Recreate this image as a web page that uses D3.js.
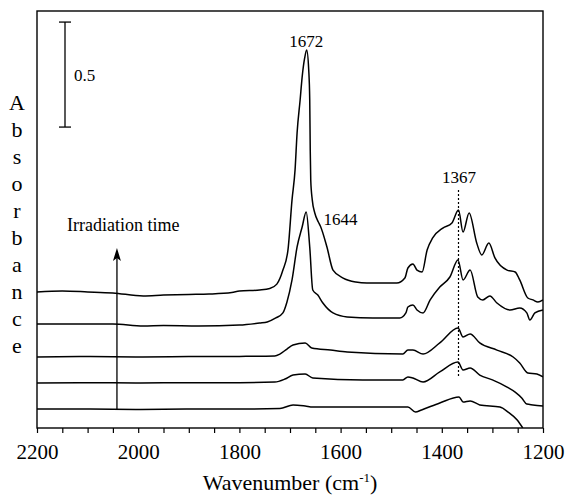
<!DOCTYPE html>
<html>
<head>
<meta charset="utf-8">
<script src="https://cdn.jsdelivr.net/npm/d3@7"></script>
<style>
  body { margin: 0; background: #fff; }
  svg text { font-family: "Liberation Serif", "Times New Roman", serif; fill: #000; }
</style>
</head>
<body>
<svg id="chart" width="567" height="496"></svg>
<script>
// spectra, [wavenumber, absorbance incl. stacking offset], top to bottom
var trace1 = [[2200,0.648],[2150,0.652],[2100,0.648],[2050,0.643],[1990,0.629],[1950,0.633],[1900,0.636],
  [1860,0.638],[1815,0.645],[1800,0.652],[1760,0.657],[1740,0.664],[1726,0.685],[1714,0.752],[1704,0.848],
  [1696,1.086],[1690,1.229],[1686,1.405],[1680,1.562],[1676,1.671],[1671,1.762],[1667,1.800],[1663,1.705],
  [1661,1.562],[1660,1.324],[1659,1.181],[1656,1.086],[1651,1.024],[1644,0.981],[1640,0.962],[1627,0.862],
  [1615,0.752],[1595,0.714],[1570,0.695],[1548,0.690],[1489,0.690],[1473,0.714],[1467,0.762],[1457,0.781],
  [1449,0.752],[1439,0.743],[1429,0.848],[1418,0.905],[1398,0.952],[1380,0.976],[1367,1.038],[1358,0.933],
  [1346,1.024],[1331,0.881],[1321,0.824],[1307,0.881],[1295,0.810],[1271,0.752],[1255,0.743],[1246,0.705],
  [1230,0.619],[1220,0.610],[1210,0.600],[1200,0.610]];
var trace2 = [[2200,0.495],[2150,0.495],[2100,0.495],[2050,0.495],[1990,0.486],[1950,0.488],[1880,0.486],
  [1800,0.490],[1760,0.500],[1745,0.505],[1728,0.524],[1714,0.548],[1706,0.600],[1696,0.705],[1686,0.862],
  [1676,0.957],[1668,1.029],[1661,0.862],[1655,0.657],[1645,0.633],[1635,0.595],[1615,0.548],[1587,0.529],
  [1536,0.524],[1483,0.524],[1471,0.548],[1467,0.576],[1457,0.586],[1449,0.562],[1437,0.548],[1423,0.610],
  [1404,0.671],[1384,0.719],[1368,0.800],[1358,0.705],[1344,0.752],[1329,0.624],[1319,0.610],[1305,0.629],
  [1291,0.595],[1265,0.562],[1246,0.571],[1232,0.548],[1226,0.514],[1216,0.548],[1200,0.562]];
var trace3 = [[2200,0.338],[2100,0.340],[2000,0.338],[1900,0.340],[1800,0.341],[1730,0.343],[1720,0.352],
  [1706,0.376],[1694,0.395],[1670,0.405],[1657,0.381],[1620,0.371],[1587,0.362],[1477,0.352],[1467,0.371],
  [1457,0.371],[1437,0.352],[1404,0.405],[1368,0.476],[1358,0.433],[1344,0.448],[1325,0.405],[1291,0.371],
  [1259,0.338],[1246,0.310],[1230,0.262],[1212,0.257],[1200,0.243]];
var trace4 = [[2200,0.214],[2100,0.216],[2000,0.214],[1900,0.216],[1800,0.216],[1730,0.219],[1710,0.233],
  [1694,0.252],[1670,0.257],[1655,0.238],[1556,0.229],[1477,0.229],[1467,0.243],[1457,0.238],[1437,0.219],
  [1404,0.267],[1368,0.314],[1358,0.276],[1344,0.286],[1325,0.252],[1300,0.229],[1271,0.195],[1255,0.171],
  [1242,0.143],[1232,0.114],[1220,0.110],[1200,0.105]];
var trace5 = [[2200,0.090],[2100,0.090],[2000,0.088],[1900,0.090],[1800,0.090],[1720,0.093],[1694,0.110],
  [1670,0.105],[1655,0.100],[1500,0.100],[1467,0.100],[1452,0.076],[1440,0.086],[1404,0.119],[1366,0.148],
  [1358,0.124],[1344,0.129],[1325,0.110],[1285,0.100],[1269,0.076],[1251,0.038],[1240,0.000]];

var xTicks = [2200, 2000, 1800, 1600, 1400, 1200];
var peakLabels = [[1672, "1672"], [1644, "1644"], [1367, "1367"]];
var scaleBarValue = 0.5;

var svg = d3.select("#chart");
var margin = {left: 37, right: 24, top: 11, bottom: 68};
var width = 567 - margin.left - margin.right,
    height = 496 - margin.top - margin.bottom;

var x = d3.scaleLinear().domain([2200, 1200]).range([0, width]);
var y = d3.scaleLinear().domain([0, height / 210]).range([height, 0]);

var g = svg.append("g").attr("transform", "translate(" + margin.left + "," + margin.top + ")");

g.append("clipPath").attr("id", "plot-clip")
  .append("rect").attr("width", width).attr("height", height);

// bottom axis, tick every 50 cm-1, labels every 200
var xAxis = d3.axisBottom(x)
  .tickValues(d3.range(2200, 1199, -50))
  .tickSize(5)
  .tickFormat(function(d) { return xTicks.indexOf(d) >= 0 ? d : ""; });
var axisG = g.append("g").attr("transform", "translate(0," + height + ")").call(xAxis);
axisG.select(".domain").remove();
axisG.selectAll("line").attr("stroke", "#000").attr("stroke-width", 1.2);
axisG.selectAll("text")
  .attr("y", 16)
  .style("font-size", "21px")
  .style("font-family", "'Liberation Serif', serif");

g.append("rect")
  .attr("width", width).attr("height", height)
  .attr("fill", "none").attr("stroke", "#000").attr("stroke-width", 1.4);

var line = d3.line()
  .x(function(d) { return x(d[0]); })
  .y(function(d) { return y(d[1]); })
  .curve(d3.curveMonotoneX);

g.append("g").attr("clip-path", "url(#plot-clip)")
  .selectAll("path")
  .data([trace1, trace2, trace3, trace4, trace5])
  .enter().append("path")
  .attr("d", line)
  .attr("fill", "none")
  .attr("stroke", "#000")
  .attr("stroke-width", 1.5)
  .attr("stroke-linejoin", "round");

// dotted marker at 1367
g.append("line")
  .attr("x1", x(1367)).attr("x2", x(1367))
  .attr("y1", 179).attr("y2", 367)
  .attr("stroke", "#000").attr("stroke-width", 1.2)
  .attr("stroke-dasharray", "2,2");

var labelPos = {"1672": [x(1668), 36, "middle"], "1644": [x(1634), 214, "start"], "1367": [x(1366), 172, "middle"]};
g.selectAll(".peak")
  .data(peakLabels)
  .enter().append("text")
  .attr("class", "peak")
  .attr("x", function(d) { return labelPos[d[1]][0]; })
  .attr("y", function(d) { return labelPos[d[1]][1]; })
  .attr("text-anchor", function(d) { return labelPos[d[1]][2]; })
  .style("font-size", "17px")
  .text(function(d) { return d[1]; });

// scale bar
var barX = 28, barBase = 1.433;
var bar = g.append("g").attr("stroke", "#000").attr("stroke-width", 1.3);
bar.append("line").attr("x1", barX).attr("x2", barX)
  .attr("y1", y(barBase)).attr("y2", y(barBase + scaleBarValue));
[barBase, barBase + scaleBarValue].forEach(function(v) {
  bar.append("line").attr("x1", barX - 6).attr("x2", barX + 6)
    .attr("y1", y(v)).attr("y2", y(v));
});
g.append("text").attr("x", barX + 9).attr("y", y(barBase + scaleBarValue / 2) + 6)
  .style("font-size", "17px").text(scaleBarValue);

// irradiation time arrow
var arrowX = x(2042);
g.append("line").attr("x1", arrowX).attr("x2", arrowX)
  .attr("y1", y(trace5[0][1])).attr("y2", 240)
  .attr("stroke", "#000").attr("stroke-width", 1.3);
g.append("path")
  .attr("d", "M" + (arrowX - 4) + ",250L" + arrowX + ",237L" + (arrowX + 4) + ",250L" + arrowX + ",247Z")
  .attr("fill", "#000");
g.append("text").attr("x", 30).attr("y", 220)
  .style("font-size", "18px").text("Irradiation time");

// y label, stacked letters
var yLabel = "Absorbance".split("");
svg.selectAll(".ylab")
  .data(yLabel)
  .enter().append("text")
  .attr("class", "ylab")
  .attr("x", 17)
  .attr("y", function(d, i) { return 110 + i * 27; })
  .attr("text-anchor", "middle")
  .style("font-size", "22px")
  .text(function(d) { return d; });

// x label
var xl = svg.append("text")
  .attr("x", margin.left + width / 2).attr("y", 490)
  .attr("text-anchor", "middle")
  .style("font-size", "22px");
xl.append("tspan").text("Wavenumber (cm");
xl.append("tspan").attr("dy", -8).style("font-size", "13px").text("-1");
xl.append("tspan").attr("dy", 8).text(")");
</script>
</body>
</html>
